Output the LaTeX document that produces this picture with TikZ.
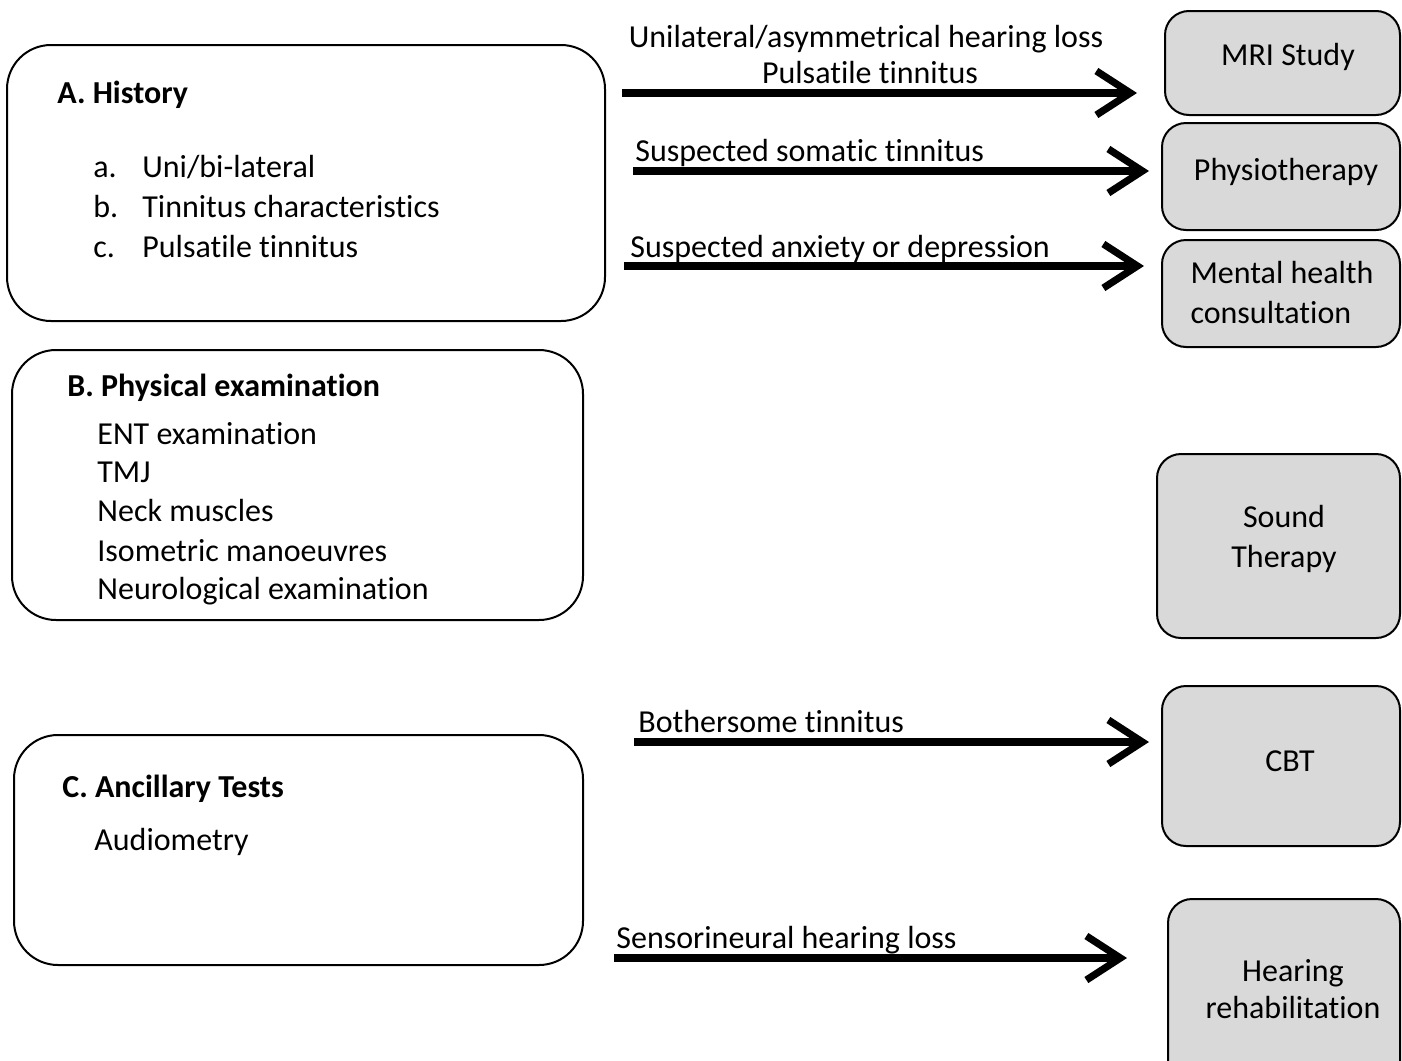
\documentclass[tikz,border=0pt]{standalone}
\usepackage{fontspec}
\setmainfont{Carlito}[Ligatures={NoCommon}]
\usetikzlibrary{arrows.meta}
\begin{document}
\begin{tikzpicture}[x=0.5pt,y=-0.5pt,
  every node/.style={font=\fontsize{16}{20}\selectfont, inner sep=0pt},
  bfnt/.style={font=\fontsize{16}{20}\selectfont\bfseries},
  leftbox/.style={draw=black, line width=1pt, rounded corners=22pt, fill=white},
  rightbox/.style={draw=black, line width=1pt, rounded corners=12pt, fill=gray!30, align=center},
  lbl/.style={yshift=-0.8pt},
  txt/.style={anchor=base west, lbl},
  arr/.style={line width=3.6pt, -{Straight Barb[length=17pt,width=22pt,line width=3.6pt]}}
]
\clip (0,0) rectangle (1402,1060);
\fill[white] (0,0) rectangle (1402,1060);

% left boxes
\node[leftbox, minimum width=299pt, minimum height=138pt] (A) at (306,183) {};
\node[leftbox, minimum width=285.5pt, minimum height=135pt] (B) at (297.5,485) {};
\node[leftbox, minimum width=284.5pt, minimum height=115pt] (C) at (298.5,850) {};

\node[txt, bfnt] (Ah) at (57,102) {A. History};
\node[txt] (Aa) at (93,176) {a.};
\node[txt] (Ab) at (93,216) {b.};
\node[txt] (Ac) at (93,256) {c.};
\node[txt] (Aat) at (142,176) {Uni/bi-lateral};
\node[txt] (Abt) at (142,216) {Tinnitus characteristics};
\node[txt] (Act) at (142,256) {Pulsatile tinnitus};

\node[txt, bfnt] (Bh) at (67,395) {B. Physical examination};
\node[txt] (B1) at (97,443) {ENT examination};
\node[txt] (B2) at (97,481) {TMJ};
\node[txt] (B3) at (97,520) {Neck muscles};
\node[txt] (B4) at (97,560) {Isometric manoeuvres};
\node[txt] (B5) at (97,598) {Neurological examination};

\node[txt, bfnt] (Ch) at (62,796) {C. Ancillary Tests};
\node[txt] (C1) at (94,849) {Audiometry};

% right boxes
\node[rightbox, minimum width=117.5pt, minimum height=52pt] (mri) at (1282.5,63) {};
\node[lbl] (mrit) at (1288,55) {MRI Study};
\node[rightbox, minimum width=119pt, minimum height=53.5pt] (phy) at (1281,176.5) {};
\node[lbl] (phyt) at (1286,170) {Physiotherapy};
\node[rightbox, minimum width=119pt, minimum height=53.5pt] (men) at (1281,293.5) {};
\node[lbl, align=left] (ment) at (1282,291) {Mental health\\consultation};
\node[rightbox, minimum width=121.5pt, minimum height=92pt] (snd) at (1278.5,546) {};
\node[lbl, align=center] (sndt) at (1284,537) {Sound\\Therapy};
\node[rightbox, minimum width=119pt, minimum height=80pt] (cbt) at (1281,766) {};
\node[lbl] (cbtt) at (1290,760) {CBT};
\node[rightbox, minimum width=116pt, minimum height=95pt] (hr) at (1284,994) {};
\node[lbl, align=center, font=\fontsize{16}{18.5}\selectfont] (hrt) at (1293,987) {Hearing\\rehabilitation};

% arrows
\coordinate (s1) at (622,93);
\coordinate (s2) at (633,171);
\coordinate (s3) at (624,266);
\coordinate (s4) at (634,742);
\coordinate (s5) at (614,958);
\draw[arr, shorten >=13.5pt] (s1) -- (s1 -| mri.west);
\draw[arr, shorten >=6pt] (s2) -- (s2 -| phy.west);
\draw[arr, shorten >=8.5pt] (s3) -- (s3 -| men.west);
\draw[arr, shorten >=6pt] (s4) -- (s4 -| cbt.west);
\draw[arr, shorten >=20pt] (s5) -- (s5 -| hr.west);

% arrow labels
\node[anchor=base, lbl] (l1a) at (866,46) {Unilateral/asymmetrical hearing loss};
\node[anchor=base, lbl] (l1b) at (870,82) {Pulsatile tinnitus};
\node[txt] (l2) at (635,160) {Suspected somatic tinnitus};
\node[txt] (l3) at (630,256) {Suspected anxiety or depression};
\node[txt] (l4) at (638,731) {Bothersome tinnitus};
\node[txt] (l5) at (616,947) {Sensorineural hearing loss};
\end{tikzpicture}
\end{document}
